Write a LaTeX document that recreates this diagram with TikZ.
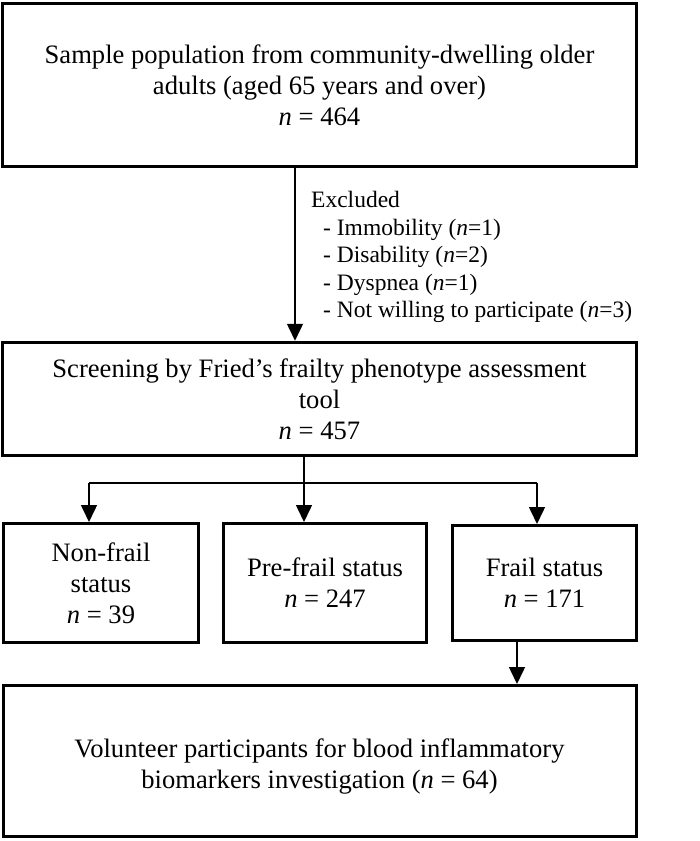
\documentclass[tikz,border=0pt]{standalone}
\usepackage{fontspec}
\setmainfont{Liberation Serif}
\usetikzlibrary{arrows.meta}
\begin{document}
\begin{tikzpicture}[x=1pt,y=-1pt,
  box/.style={draw, line width=3pt, align=center, inner sep=0pt, font=\fontsize{26.6}{31}\selectfont},
  txt/.style={align=center, inner sep=0pt, font=\fontsize{26.6}{31}\selectfont},
  conn/.style={line width=1.5pt},
  arr/.style={conn, -{Triangle[width=16pt,length=17pt]}},
  excl/.style={align=left, inner sep=0pt, anchor=north west, font=\fontsize{23.5}{27.5}\selectfont}]
\useasboundingbox (0,0) rectangle (700,841);
\node[box, minimum width=634pt, minimum height=163.5pt] (b1) at (319.5,85)
  {Sample population from community-dwelling older\\adults (aged 65 years and over)\\\textit{n} = 464};
\node[box, minimum width=634pt, minimum height=113.5pt] (b2) at (319.5,399)
  {Screening by Fried’s frailty phenotype assessment\\tool\\\textit{n} = 457};
\node[box, minimum width=195pt, minimum height=119pt] (ba) at (101,583)
  {Non-frail\\status\\\textit{n} = 39};
\node[box, minimum width=203pt, minimum height=119pt] (bb) at (325,583)
  {Pre-frail status\\\textit{n} = 247};
\node[box, minimum width=184pt, minimum height=115pt] (bc) at (544.5,583)
  {Frail status\\\textit{n} = 171};
\node[box, minimum width=633pt, minimum height=151pt] (bd) at (319.5,761) {};
\node[txt] (bdt) at (319.5,766)
  {Volunteer participants for blood inflammatory\\biomarkers investigation (\textit{n} = 64)};
\node[excl] (ex) at (311,191)
  {Excluded\\
   \hspace*{12pt}- Immobility (\textit{n}=1)\\
   \hspace*{12pt}- Disability (\textit{n}=2)\\
   \hspace*{12pt}- Dyspnea (\textit{n}=1)\\
   \hspace*{12pt}- Not willing to participate (\textit{n}=3)};
\coordinate (x1) at (295,0);
\coordinate (xm) at (304,483);
\coordinate (xl) at (89,483);
\coordinate (xr) at (537,483);
\coordinate (x4) at (517,0);
\draw[arr] (b1.south -| x1) -- (b2.north -| x1);
\draw[conn] (b2.south -| xm) -- (xm);
\draw[conn] (xl) -- (xr);
\draw[arr] (xl) -- (ba.north -| xl);
\draw[arr] (xm) -- (bb.north -| xm);
\draw[arr] (xr) -- (bc.north -| xr);
\draw[arr] (bc.south -| x4) -- (bd.north -| x4);
\end{tikzpicture}
\end{document}
